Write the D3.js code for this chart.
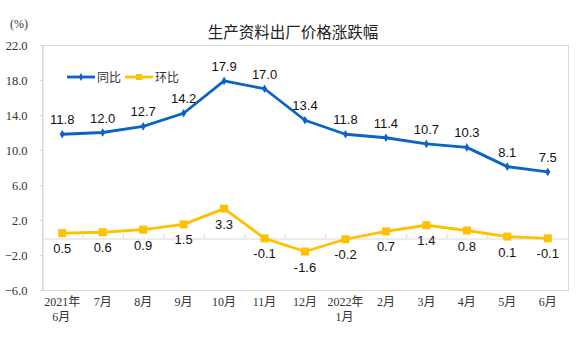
<!DOCTYPE html>
<html>
<head>
<meta charset="utf-8">
<script src="https://cdn.jsdelivr.net/npm/d3@7"></script>
<style>
  body { margin: 0; background: #fff; }
  svg { display: block; }
</style>
</head>
<body>
<svg id="chart" width="576" height="343"></svg>
<script>
// data
const months = [['2021年', '6月'], ['7月'], ['8月'], ['9月'], ['10月'], ['11月'], ['12月'],
  ['2022年', '1月'], ['2月'], ['3月'], ['4月'], ['5月'], ['6月']]
const yoy = [11.8, 12.0, 12.7, 14.2, 17.9, 17.0, 13.4, 11.8, 11.4, 10.7, 10.3, 8.1, 7.5]
const mom = [0.5, 0.6, 0.9, 1.5, 3.3, -0.1, -1.6, -0.2, 0.7, 1.4, 0.8, 0.1, -0.1]
const yTicks = [22, 18, 14, 10, 6, 2, -2, -6]

const blue = '#0a64c8'
const gold = '#ffc000'
const serif = '"Liberation Serif", "Noto Sans CJK SC", serif'
const sans = '"Liberation Sans", Arial, sans-serif'

const m = { left: 42, right: 568, top: 45, bottom: 290 }

const svg = d3.select('#chart')

const x = d3.scaleBand()
  .domain(months.map((d, i) => i))
  .range([m.left, m.right])

const y = d3.scaleLinear()
  .domain([-6, 22])
  .range([m.bottom, m.top])

// plot frame
svg.append('rect')
  .attr('x', m.left + 0.5).attr('y', m.top + 0.5)
  .attr('width', m.right - m.left).attr('height', m.bottom - m.top)
  .attr('fill', 'none').attr('stroke', '#d9d9d9')

// left axis
const yAxis = svg.append('g')
  .attr('transform', `translate(${m.left + 0.5},0)`)
  .call(d3.axisLeft(y).tickValues(yTicks).tickSizeInner(3).tickSizeOuter(0)
    .tickPadding(12).tickFormat(d3.format('.1f')))
yAxis.select('.domain').attr('stroke', '#d9d9d9')
yAxis.selectAll('.tick line').attr('stroke', '#d9d9d9')
yAxis.selectAll('text')
  .attr('font-family', serif).attr('font-size', 12.5).attr('fill', '#333')

// zero line with category ticks
const zeroY = Math.round(y(0))
const xAxis = svg.append('g')
  .attr('transform', `translate(0,${zeroY + 0.5})`)
  .call(d3.axisBottom(x).tickSize(0).tickFormat(''))
xAxis.select('.domain').attr('stroke', '#d9d9d9')
svg.append('g').selectAll('line')
  .data(d3.range(months.length + 1))
  .join('line')
  .attr('x1', i => m.left + i * x.step() + 0.5)
  .attr('x2', i => m.left + i * x.step() + 0.5)
  .attr('y1', zeroY)
  .attr('y2', zeroY - 4)
  .attr('stroke', '#d9d9d9')

// month labels
const cx = i => x(i) + x.bandwidth() / 2
const lbl = svg.append('g')
  .attr('font-family', serif).attr('font-size', 12).attr('fill', '#333')
  .attr('text-anchor', 'middle')
months.forEach((mo, i) => {
  mo.forEach((t, k) => {
    lbl.append('text')
      .attr('x', cx(i) + (k === 1 ? -1 : 0))
      .attr('y', 306 + k * 15)
      .text(t)
  })
})

// lines
const line = d3.line().x((d, i) => cx(i)).y(d => y(d))

svg.append('path').datum(mom)
  .attr('d', line).attr('fill', 'none')
  .attr('stroke', gold).attr('stroke-width', 2.8).attr('stroke-linejoin', 'round')
svg.append('g').selectAll('rect')
  .data(mom).join('rect')
  .attr('x', (d, i) => cx(i) - 4).attr('y', d => y(d) - 4)
  .attr('width', 8).attr('height', 8).attr('fill', gold)

svg.append('path').datum(yoy)
  .attr('d', line).attr('fill', 'none')
  .attr('stroke', blue).attr('stroke-width', 2.8).attr('stroke-linejoin', 'round')
svg.append('g').selectAll('path')
  .data(yoy).join('path')
  .attr('transform', (d, i) => `translate(${cx(i)},${y(d)})`)
  .attr('d', d3.symbol(d3.symbolDiamond, 22))
  .attr('fill', blue)

// value labels
svg.append('g').selectAll('text')
  .data(yoy).join('text')
  .attr('x', (d, i) => cx(i)).attr('y', d => y(d) - 10)
  .attr('text-anchor', 'middle')
  .attr('font-family', sans).attr('font-size', 13).attr('fill', '#111')
  .text(d => d.toFixed(1))

svg.append('g').selectAll('text')
  .data(mom).join('text')
  .attr('x', (d, i) => cx(i)).attr('y', d => y(d) + 20)
  .attr('text-anchor', 'middle')
  .attr('font-family', sans).attr('font-size', 13).attr('fill', '#111')
  .text(d => d.toFixed(1))

// title and unit
svg.append('text')
  .attr('x', 293).attr('y', 38).attr('text-anchor', 'middle')
  .attr('font-family', '"Noto Sans CJK SC", sans-serif').attr('font-size', 15.5).attr('fill', '#222')
  .text('生产资料出厂价格涨跌幅')
svg.append('text')
  .attr('x', 10).attr('y', 28)
  .attr('font-family', serif).attr('font-size', 12).attr('fill', '#333')
  .text('(%)')

// legend
const legend = [{ name: '同比', color: blue, x0: 67 }, { name: '环比', color: gold, x0: 125 }]
const lg = svg.append('g')
legend.forEach(l => {
  lg.append('line')
    .attr('x1', l.x0).attr('x2', l.x0 + 28).attr('y1', 77).attr('y2', 77)
    .attr('stroke', l.color).attr('stroke-width', 2.8)
  if (l.color === blue) {
    lg.append('path').attr('transform', `translate(${l.x0 + 14},77)`)
      .attr('d', d3.symbol(d3.symbolDiamond, 18)).attr('fill', l.color)
  } else {
    lg.append('rect').attr('x', l.x0 + 11).attr('y', 74).attr('width', 6).attr('height', 6)
      .attr('fill', l.color)
  }
  lg.append('text')
    .attr('x', l.x0 + 30).attr('y', 82)
    .attr('font-family', '"Noto Sans CJK SC", sans-serif').attr('font-size', 12).attr('fill', '#333')
    .text(l.name)
})
</script>
</body>
</html>
